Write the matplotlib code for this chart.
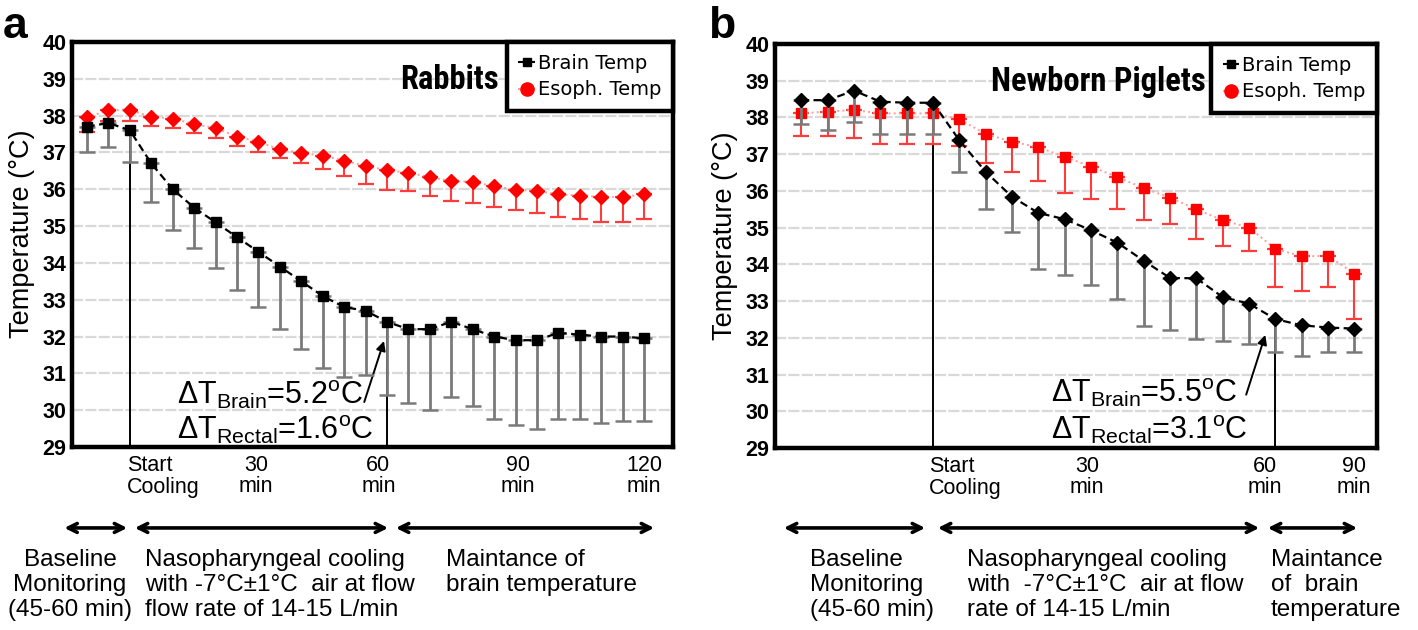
import matplotlib.pyplot as plt
import numpy as np
from matplotlib import font_manager
from matplotlib.lines import Line2D
from matplotlib.patches import FancyArrowPatch

plt.rcParams['font.family'] = ['Liberation Sans', 'DejaVu Sans']
plt.rcParams['mathtext.fontset'] = 'custom'
plt.rcParams['mathtext.rm'] = 'Liberation Sans'
plt.rcParams['mathtext.it'] = 'Liberation Sans:italic'
plt.rcParams['mathtext.bf'] = 'Liberation Sans:bold'

# pick a narrow bold face for the panel titles
bold_cond = {}
for f in font_manager.fontManager.ttflist:
    if f.weight in ('bold', 700) and f.style == 'normal':
        bold_cond.setdefault(f.name, f.fname)
cond_file = None
for name in ['Liberation Sans Narrow', 'Arial Narrow', 'Roboto Condensed', 'Archivo Narrow',
             'PT Sans Narrow', 'Fira Sans Condensed', 'IBM Plex Sans Condensed', 'Asap Condensed']:
    if name in bold_cond:
        cond_file = bold_cond[name]
        break

# panel a - rabbits, reading every 5 min (-10 ... 120 min)
brain_a = [37.7, 37.8, 37.6, 36.7, 36.0, 35.5, 35.1, 34.7, 34.3, 33.9, 33.5, 33.1, 32.8, 32.7,
           32.4, 32.2, 32.2, 32.4, 32.2, 32.0, 31.9, 31.9, 32.1, 32.05, 32.0, 32.0, 31.95]
brain_a_low = [37.0, 37.15, 36.75, 35.65, 34.9, 34.4, 33.85, 33.25, 32.8, 32.2, 31.65, 31.15, 30.9, 30.95,
               30.4, 30.2, 30.0, 30.35, 30.1, 29.75, 29.6, 29.5, 29.75, 29.75, 29.65, 29.7, 29.7]
esoph_a = [37.95, 38.15, 38.15, 37.97, 37.92, 37.77, 37.66, 37.43, 37.29, 37.08, 36.99, 36.91, 36.78, 36.63,
           36.52, 36.45, 36.33, 36.22, 36.2, 36.08, 35.99, 35.95, 35.86, 35.83, 35.79, 35.79, 35.86]
esoph_a_low = [37.56, 37.86, 37.86, 37.73, 37.66, 37.52, 37.38, 37.17, 37.02, 36.85, 36.7, 36.54, 36.36, 36.13,
               35.99, 35.94, 35.81, 35.68, 35.62, 35.53, 35.44, 35.36, 35.24, 35.18, 35.1, 35.1, 35.18]
xlab_a_pos = [7.9, 13.6, 20.1, 26.0]
xlab_a = ['30\nmin', '60\nmin', '90\nmin', '120\nmin']
start_a, end_a = 2, 14

# panel b - newborn piglets
brain_b = [38.47, 38.47, 38.73, 38.43, 38.4, 38.4, 37.38, 36.52, 35.84, 35.4, 35.23, 34.93, 34.59, 34.1,
           33.63, 33.62, 33.11, 32.93, 32.51, 32.34, 32.28, 32.25]
brain_b_low = [37.81, 37.66, 37.88, 37.54, 37.54, 37.54, 36.52, 35.52, 34.89, 33.86, 33.71, 33.43, 33.07, 32.32,
               32.21, 31.96, 31.91, 31.83, 31.62, 31.51, 31.6, 31.6]
esoph_b = [38.11, 38.16, 38.2, 38.11, 38.11, 38.11, 37.95, 37.55, 37.34, 37.19, 36.93, 36.66, 36.38, 36.07,
           35.82, 35.5, 35.2, 35.0, 34.42, 34.22, 34.23, 33.75]
esoph_b_low = [37.49, 37.49, 37.43, 37.29, 37.29, 37.29, 37.22, 36.77, 36.52, 36.26, 35.93, 35.77, 35.5, 35.22,
               35.11, 34.68, 34.5, 34.37, 33.39, 33.28, 33.39, 32.5]
xlab_b_pos = [10.85, 17.6, 20.97]
xlab_b = ['30\nmin', '60\nmin', '90\nmin']
start_b, end_b = 5, 18

yticks = list(range(29, 41))


def title_font(size):
    if cond_file:
        return font_manager.FontProperties(fname=cond_file, size=size)
    return font_manager.FontProperties(family='Liberation Sans', weight='bold', size=size * 0.8)


def panel(ax, brain, brain_lo, esoph, esoph_lo, bm, em, bms, ems, xlim, start, end,
          lab_pos, labs, title, tx, delta_txt, dx, dy, arrow_from, arrow_to):
    x = np.arange(len(brain))
    brain = np.array(brain)
    esoph = np.array(esoph)
    # vertical markers for start of cooling and 60 min
    ax.vlines([start, end], 29, brain[[start, end]], color='black', lw=1.4, zorder=1)
    ax.errorbar(x, esoph, yerr=[esoph - np.array(esoph_lo), np.zeros(len(x))], fmt='none',
                ecolor='#ff3c3c', elinewidth=1.5, capsize=6, capthick=1.6, zorder=2)
    ax.plot(x, esoph, color='#ff9c9c', ls=':', lw=1.4, zorder=3)
    ax.plot(x, esoph, ls='none', marker=em, ms=ems, color='red', zorder=4)
    ax.errorbar(x, brain, yerr=[brain - np.array(brain_lo), np.zeros(len(x))], fmt='none',
                ecolor='#7a7a7a', elinewidth=2, capsize=6, capthick=1.8, zorder=5)
    ax.plot(x, brain, color='black', ls=(0, (3.5, 2)), lw=1.6, zorder=6)
    ax.plot(x, brain, ls='none', marker=bm, ms=bms, color='black', zorder=7)

    ax.set_xlim(*xlim)
    ax.set_ylim(29, 40)
    ax.set_yticks(yticks)
    ax.set_yticklabels([str(t) for t in yticks], fontsize=15.5, fontweight='bold')
    ax.tick_params(axis='y', length=0, pad=4)
    ax.set_xticks([])
    ax.yaxis.grid(True, color='#d9d9d9', lw=1.6, ls=(0, (5, 1)))
    ax.set_axisbelow(True)
    for s in ax.spines.values():
        s.set_linewidth(3.2)
    ax.set_ylabel('Temperature (°C)', fontsize=19.5)
    ax.yaxis.set_label_coords(-0.062, 0.526)

    tr = ax.get_xaxis_transform()
    ax.text(start - 0.15, -0.02, 'Start\nCooling', transform=tr, ha='left', va='top',
            fontsize=15.5, linespacing=1.05)
    for p, l in zip(lab_pos, labs):
        ax.text(p, -0.02, l, transform=tr, ha='center', va='top', fontsize=15.5,
                linespacing=1.0, multialignment='center')

    ax.text(tx, 0.905, title, transform=ax.transAxes, ha='center', va='center',
            fontproperties=title_font(23.5))

    h1 = Line2D([], [], color='black', ls='--', lw=1.5, marker='s', ms=6)
    h2 = Line2D([], [], color='#ff9c9c', ls=':', lw=1.4, marker='o', ms=9.5, mfc='red', mec='red')
    leg = ax.legend([h1, h2], ['Brain Temp', 'Esoph. Temp'], loc='upper right', borderaxespad=0,
                    fancybox=False, framealpha=1, edgecolor='black', handlelength=0.85,
                    handletextpad=0.15, borderpad=0.6, labelspacing=0.4,
                    prop={'family': 'DejaVu Sans', 'size': 14})
    leg.get_frame().set_linewidth(3.2)

    ax.text(dx, dy[0], r'$\Delta$T$_{\rm Brain}$=' + delta_txt[0] + r'$^{\rm o}$C', fontsize=22, va='baseline')
    ax.text(dx, dy[1], r'$\Delta$T$_{\rm Rectal}$=' + delta_txt[1] + r'$^{\rm o}$C', fontsize=22, va='baseline')
    ax.annotate('', xy=arrow_to, xytext=arrow_from,
                arrowprops=dict(arrowstyle='-|>', color='black', lw=1.4, mutation_scale=14))


fig = plt.figure(figsize=(14.18, 6.3), dpi=100)
ax1 = fig.add_axes([0.0508, 0.2905, 0.4238, 0.6429])
ax2 = fig.add_axes([0.5465, 0.2889, 0.4246, 0.6413])

panel(ax1, brain_a, brain_a_low, esoph_a, esoph_a_low, 's', 'D', 7, 7.5, (-0.7, 27.35),
      start_a, end_a, xlab_a_pos, xlab_a, 'Rabbits', 0.628, ['5.2', '1.6'], 4.2, (30.18, 29.22),
      (12.9, 30.15), (13.9, 31.95))
panel(ax2, brain_b, brain_b_low, esoph_b, esoph_b_low, 'D', 's', 7, 7.5, (-1.0, 21.86),
      start_b, end_b, xlab_b_pos, xlab_b, 'Newborn Piglets', 0.538, ['5.5', '3.1'], 9.5, (30.25, 29.26),
      (16.86, 30.38), (17.65, 32.15))

fig.text(0.002, 0.94, 'a', fontsize=32, fontweight='bold', va='baseline')
fig.text(0.499, 0.94, 'b', fontsize=32, fontweight='bold', va='baseline')

# phase arrows under the panels
for x0, x1 in [(0.0434, 0.0917), (0.0931, 0.2757), (0.2772, 0.4633),
               (0.5508, 0.6544), (0.6594, 0.8900), (0.8921, 0.9591)]:
    fig.add_artist(FancyArrowPatch((x0, 0.162), (x1, 0.162), transform=fig.transFigure,
                                   arrowstyle='<->', mutation_scale=16, lw=2.6, color='black'))

tkw = dict(fontsize=17.5, va='top', linespacing=1.17)
fig.text(0.0494, 0.129, 'Baseline\nMonitoring\n(45-60 min)', ha='center', multialignment='center', **tkw)
fig.text(0.1023, 0.129, 'Nasopharyngeal cooling\nwith -7°C±1°C  air at flow\nflow rate of 14-15 L/min', ha='left', **tkw)
fig.text(0.3145, 0.129, 'Maintance of\nbrain temperature', ha='left', **tkw)
fig.text(0.5712, 0.129, 'Baseline\nMonitoring\n(45-60 min)', ha='left', **tkw)
fig.text(0.682, 0.129, 'Nasopharyngeal cooling\nwith  -7°C±1°C  air at flow\nrate of 14-15 L/min', ha='left', **tkw)
fig.text(0.8963, 0.129, 'Maintance\nof  brain\ntemperature', ha='left', **tkw)

fig.savefig('out.png', dpi=100)
